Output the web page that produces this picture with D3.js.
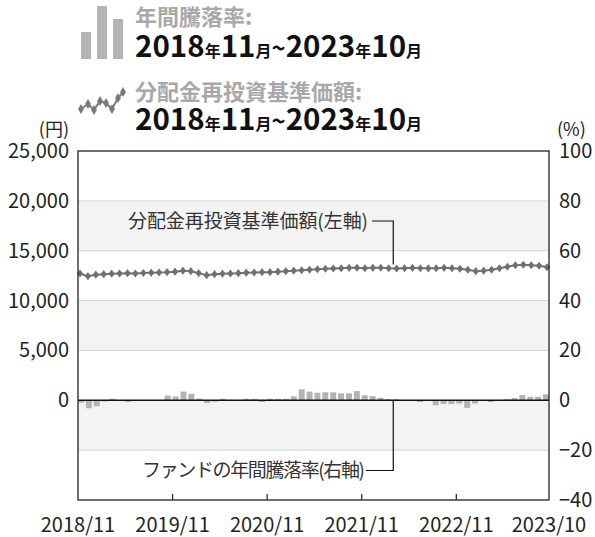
<!doctype html>
<html>
<head>
<meta charset="utf-8">
<style type="text/css">
body { margin: 0; background: #fff; }
text { font-family: "Noto Sans CJK JP", "Noto Sans", sans-serif; fill: #222; }
.tick-label { font-size: 20px; }
.unit { font-size: 18px; }
.note { font-size: 19px; fill: #333; }
</style>
</head>
<body>
<div class="output">
<svg width="595" height="537"></svg>
</div>
<script src="https://cdnjs.cloudflare.com/ajax/libs/d3/7.8.5/d3.min.js"></script>
<script>
// monthly data 2018/11 - 2023/10
var navValues = [12720, 12450, 12600, 12650, 12700, 12720, 12750, 12720, 12760, 12800,
                 12820, 12850, 12900, 13000, 12950, 12750, 12550, 12650, 12700, 12720,
                 12750, 12800, 12820, 12850, 12850, 12900, 12950, 13000, 13050, 13100,
                 13150, 13200, 13220, 13250, 13280, 13300, 13250, 13280, 13300, 13250,
                 13220, 13250, 13280, 13250, 13230, 13250, 13280, 13250, 13200, 13100,
                 12950, 13000, 13100, 13250, 13400, 13550, 13600, 13550, 13500, 13350];

var annualReturns = [-1.0, -3.2, -2.4, -0.5, 0.6, 0.1, -0.7, 0.0, 0.0, 0.0,
                     0.0, 1.9, 1.5, 3.5, 2.6, 0.7, -1.1, -0.6, 0.6, 0.1,
                     0.0, 0.6, 0.6, -0.7, 0.6, 0.6, 0.6, 1.6, 4.4, 3.5,
                     3.0, 3.2, 3.2, 2.8, 2.8, 3.7, 2.0, 1.7, 1.0, 0.5,
                     0.4, 0.0, 0.0, -0.7, 0.0, -2.0, -1.5, -1.5, -1.3, -3.0,
                     -1.3, 0.0, -0.7, 0.0, 0.5, 0.9, 2.1, 1.4, 1.4, 2.4];

var xTickLabels = ["2018/11", "2019/11", "2020/11", "2021/11", "2022/11", "2023/10"];
var leftTicks = [0, 5000, 10000, 15000, 20000, 25000];
var rightTicks = [-40, -20, 0, 20, 40, 60, 80, 100];

var months = d3.timeMonth.range(new Date(2018, 10, 1), new Date(2023, 10, 1))
  .map(d3.timeFormat("%Y/%m"))
  .map(function(s) { return s.replace("/0", "/"); });

window.onload = function() {
  var svg = d3.select("div.output svg");

  var plot = {left: 78, right: 549, top: 151, bottom: 500};

  var x = d3.scaleBand()
    .domain(months)
    .range([plot.left, plot.right])
    .paddingInner(0.24)
    .paddingOuter(0)
    .align(0);

  var xp = d3.scalePoint()
    .domain(months)
    .range([plot.left + 2, plot.right - 2]);

  var yL = d3.scaleLinear().domain([-10000, 25000]).range([plot.bottom, plot.top]);
  var yR = d3.scaleLinear().domain([-40, 100]).range([plot.bottom, plot.top]);

  // alternating background bands
  var bands = [-10000, -5000, 0, 5000, 10000, 15000, 20000];
  svg.append("g").selectAll("rect")
    .data(bands)
    .enter().append("rect")
    .attr("x", plot.left)
    .attr("width", plot.right - plot.left)
    .attr("y", function(d) { return yL(d + 5000); })
    .attr("height", function(d) { return yL(d) - yL(d + 5000); })
    .attr("fill", function(d, i) { return i % 2 == 1 ? "#f3f3f3" : "#fff"; });

  // grid lines
  svg.append("g").selectAll("line")
    .data([-5000, 5000, 10000, 15000, 20000])
    .enter().append("line")
    .attr("x1", plot.left).attr("x2", plot.right)
    .attr("y1", function(d) { return yL(d); })
    .attr("y2", function(d) { return yL(d); })
    .attr("stroke", "#d4d4d4")
    .attr("stroke-width", 1);

  // bars (right axis)
  svg.append("g").selectAll("rect")
    .data(annualReturns)
    .enter().append("rect")
    .attr("x", function(d, i) { return x(months[i]); })
    .attr("width", x.bandwidth())
    .attr("y", function(d) { return yR(Math.max(0, d)); })
    .attr("height", function(d) { return Math.abs(yR(d) - yR(0)); })
    .attr("fill", "#b3b3b3");

  // zero line
  svg.append("line")
    .attr("x1", plot.left).attr("x2", plot.right)
    .attr("y1", yL(0)).attr("y2", yL(0))
    .attr("stroke", "#111").attr("stroke-width", 1.5);

  // annotation leaders
  var leadX = x(months[40]);
  svg.append("path")
    .attr("d", "M" + 372 + "," + 221 + "H" + leadX + "V" + (yL(navValues[40]) - 4))
    .attr("fill", "none").attr("stroke", "#111").attr("stroke-width", 1.2);
  svg.append("path")
    .attr("d", "M" + 366 + "," + 470.5 + "H" + leadX + "V" + yR(0))
    .attr("fill", "none").attr("stroke", "#111").attr("stroke-width", 1.2);
  svg.append("text").attr("class", "note")
    .attr("x", 128).attr("y", 228)
    .attr("textLength", 240).attr("lengthAdjust", "spacing")
    .text("分配金再投資基準価額(左軸)");
  svg.append("text").attr("class", "note")
    .attr("x", 142).attr("y", 477)
    .attr("textLength", 223).attr("lengthAdjust", "spacing")
    .text("ファンドの年間騰落率(右軸)");

  // NAV line
  var line = d3.line()
    .x(function(d, i) { return xp(months[i]); })
    .y(function(d) { return yL(d); });
  svg.append("path")
    .datum(navValues)
    .attr("d", line)
    .attr("fill", "none")
    .attr("stroke", "#707070")
    .attr("stroke-width", 2);
  svg.append("g").selectAll("path")
    .data(navValues)
    .enter().append("path")
    .attr("d", d3.symbol().type(d3.symbolDiamond).size(26))
    .attr("transform", function(d, i) { return "translate(" + xp(months[i]) + "," + yL(d) + ") scale(1.15,0.85)"; })
    .attr("fill", "#707070");

  // frame
  svg.append("rect")
    .attr("x", plot.left).attr("y", plot.top)
    .attr("width", plot.right - plot.left).attr("height", plot.bottom - plot.top)
    .attr("fill", "none").attr("stroke", "#222").attr("stroke-width", 1.3);

  // x ticks (inward)
  svg.append("g").selectAll("line")
    .data(xTickLabels.slice(1, 5))
    .enter().append("line")
    .attr("x1", function(d) { return x(d); })
    .attr("x2", function(d) { return x(d); })
    .attr("y1", plot.bottom).attr("y2", plot.bottom - 6)
    .attr("stroke", "#222").attr("stroke-width", 1.2);

  svg.append("g").selectAll("text")
    .data(xTickLabels)
    .enter().append("text")
    .attr("class", "tick-label")
    .attr("x", function(d, i) { return i == xTickLabels.length - 1 ? plot.right : x(d); })
    .attr("y", 532)
    .attr("text-anchor", "middle")
    .text(function(d) { return d; });

  // left axis labels
  svg.append("g").selectAll("text")
    .data(leftTicks)
    .enter().append("text")
    .attr("class", "tick-label")
    .attr("x", 69)
    .attr("y", function(d) { return yL(d) + 7; })
    .attr("text-anchor", "end")
    .text(d3.format(","));
  svg.append("text").attr("class", "unit")
    .attr("x", 69).attr("y", 136).attr("text-anchor", "end").text("(円)");

  // right axis labels
  svg.append("g").selectAll("text")
    .data(rightTicks)
    .enter().append("text")
    .attr("class", "tick-label")
    .attr("x", 559)
    .attr("y", function(d) { return yR(d) + 7; })
    .attr("text-anchor", "start")
    .text(function(d) { return d < 0 ? "\u2212" + Math.abs(d) : d; });
  svg.append("text").attr("class", "unit")
    .attr("x", 557).attr("y", 136).text("(%)");

  // legend
  var lg = svg.append("g");
  lg.selectAll("rect")
    .data([27, 53, 40])
    .enter().append("rect")
    .attr("x", function(d, i) { return 81 + i * 16; })
    .attr("y", function(d) { return 59 - d; })
    .attr("width", 10)
    .attr("height", function(d) { return d; })
    .attr("fill", "#b4b4b4");

  var iconPts = [[81, 109], [88, 104], [94, 110], [100, 101], [106, 103], [112, 109], [118, 98], [123, 92]];
  lg.append("path")
    .attr("d", d3.line()(iconPts))
    .attr("fill", "none").attr("stroke", "#7a7a7a").attr("stroke-width", 2);
  lg.selectAll("path.mk")
    .data(iconPts)
    .enter().append("path").attr("class", "mk")
    .attr("d", d3.symbol().type(d3.symbolDiamond).size(30))
    .attr("transform", function(d) { return "translate(" + d[0] + "," + d[1] + ")"; })
    .attr("fill", "#7a7a7a");

  lg.append("text").attr("x", 135).attr("y", 25)
    .style("font-size", "22px").style("font-weight", "bold").style("fill", "#a8a8a8")
    .text("年間騰落率:");
  lg.append("text").attr("x", 135).attr("y", 100)
    .style("font-size", "22px").style("font-weight", "bold").style("fill", "#a8a8a8")
    .text("分配金再投資基準価額:");

  function dateLine(yy) {
    var t = lg.append("text").attr("x", 135).attr("y", yy)
      .style("font-weight", "bold").style("fill", "#111");
    var parts = [["2018", 29.5], ["年", 16], ["11", 29.5], ["月", 16], ["~", 24], ["2023", 29.5], ["年", 16], ["10", 29.5], ["月", 16]];
    parts.forEach(function(p) {
      t.append("tspan").style("font-size", p[1] + "px").text(p[0]);
    });
  }
  dateLine(57);
  dateLine(130);
};
</script>
</body>
</html>
